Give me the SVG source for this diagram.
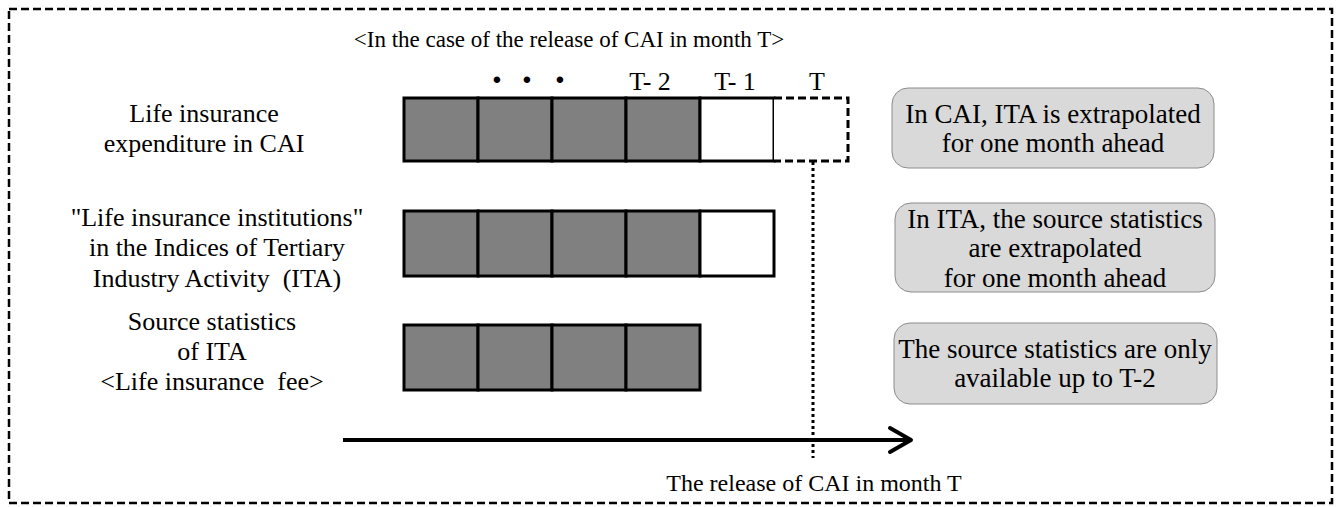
<svg xmlns="http://www.w3.org/2000/svg" width="1340" height="507" viewBox="0 0 1340 507">
<defs>
<style>
text{font-family:"Liberation Serif","Times New Roman",serif;font-size:26px;fill:#000;}
.c{text-anchor:middle;}
.n{font-size:27px;}
.t{font-size:23px;}
.r{font-size:24px;}
.dot{font-size:40px;font-weight:bold;}
.g{fill:#808080;stroke:#000;stroke-width:3;}
.w{fill:#fff;stroke:#000;stroke-width:3;}
.note{fill:#d9d9d9;stroke:#8c8c8c;stroke-width:1;}
</style>
</defs>
<rect x="0" y="0" width="1340" height="507" fill="#fff"/>
<rect id="frame" x="9" y="9" width="1323" height="494" fill="none" stroke="#000" stroke-width="2.5" stroke-dasharray="8,4"/>
<text id="title" class="c t" x="569" y="47">&lt;In the case of the release of CAI in month T&gt;</text>
<g id="timelabels">
<text class="c dot" x="497" y="93">·</text>
<text class="c dot" x="527" y="93">·</text>
<text class="c dot" x="560" y="93">·</text>
<text class="c" x="650" y="90">T- 2</text>
<text class="c" x="735" y="90">T- 1</text>
<text class="c" x="817" y="90">T</text>
</g>
<g id="row1">
<text class="c" x="204" y="122">Life insurance</text>
<text class="c" x="204" y="152">expenditure in CAI</text>
<rect class="g" x="404" y="98" width="74" height="63"/>
<rect class="g" x="478" y="98" width="74" height="63"/>
<rect class="g" x="552" y="98" width="74" height="63"/>
<rect class="g" x="626" y="98" width="74" height="63"/>
<rect class="w" x="700" y="98" width="74" height="63"/>
<path d="M774,98 H848 V161 H774" fill="#fff" stroke="#000" stroke-width="3" stroke-dasharray="8,4"/>
</g>
<g id="row2">
<text class="c" x="217" y="226">"Life insurance institutions"</text>
<text class="c" x="217" y="256">in the Indices of Tertiary</text>
<text class="c" x="217" y="287" xml:space="preserve">Industry Activity  (ITA)</text>
<rect class="g" x="404" y="211" width="74" height="65"/>
<rect class="g" x="478" y="211" width="74" height="65"/>
<rect class="g" x="552" y="211" width="74" height="65"/>
<rect class="g" x="626" y="211" width="74" height="65"/>
<rect class="w" x="700" y="211" width="74" height="65"/>
</g>
<g id="row3">
<text class="c" x="212" y="330">Source statistics</text>
<text class="c" x="212" y="360">of ITA</text>
<text class="c" x="212" y="390" xml:space="preserve">&lt;Life insurance  fee&gt;</text>
<rect class="g" x="404" y="325" width="74" height="65"/>
<rect class="g" x="478" y="325" width="74" height="65"/>
<rect class="g" x="552" y="325" width="74" height="65"/>
<rect class="g" x="626" y="325" width="74" height="65"/>
</g>
<g id="note1">
<rect class="note" x="892" y="88" width="322" height="80" rx="16"/>
<text class="c n" x="1053" y="123">In CAI, ITA is extrapolated</text>
<text class="c n" x="1053" y="152">for one month ahead</text>
</g>
<g id="note2">
<rect class="note" x="895" y="203" width="320" height="89" rx="16"/>
<text class="c n" x="1055" y="228">In ITA, the source statistics</text>
<text class="c n" x="1055" y="257">are extrapolated</text>
<text class="c n" x="1055" y="287">for one month ahead</text>
</g>
<g id="note3">
<rect class="note" x="894" y="323" width="323" height="81" rx="16"/>
<text class="c n" x="1055" y="358">The source statistics are only</text>
<text class="c n" x="1055" y="387">available up to T-2</text>
</g>
<g id="connectors">
<line x1="343" y1="440" x2="911" y2="440" stroke="#000" stroke-width="4"/>
<polyline points="890,428 911,440 890,452" fill="none" stroke="#000" stroke-width="4" stroke-linecap="round" stroke-linejoin="round"/>
<line x1="813" y1="162" x2="813" y2="458" stroke="#000" stroke-width="3" stroke-dasharray="3,3"/>
</g>
<text id="release" class="c r" x="814" y="491">The release of CAI in month T</text>
</svg>
